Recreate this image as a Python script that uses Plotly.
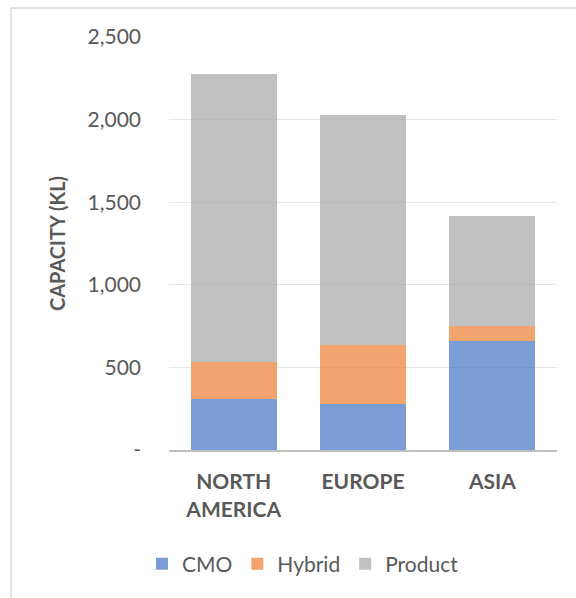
import plotly.graph_objects as go

regions = ["NORTH AMERICA", "EUROPE", "ASIA"]
region_labels = ["<b>NORTH<br>AMERICA</b>", "<b>EUROPE</b>", "<b>ASIA</b>"]
cmo = [307, 280, 658]
hybrid = [228, 357, 93]
product = [1741, 1391, 665]
tick_vals = [0, 500, 1000, 1500, 2000, 2500]
tick_text = ["-", "500", "1,000", "1,500", "2,000", "2,500"]

FONT = "Lato"
GREY = "#595959"

fig = go.Figure()
fig.add_trace(go.Bar(name="CMO", x=regions, y=cmo, marker=dict(color="rgba(68,114,196,0.7)", line=dict(width=0))))
fig.add_trace(go.Bar(name="Hybrid", x=regions, y=hybrid, marker=dict(color="rgba(237,125,49,0.7)", line=dict(width=0))))
fig.add_trace(go.Bar(name="Product", x=regions, y=product, marker=dict(color="rgba(165,165,165,0.7)", line=dict(width=0))))

W, H = 576, 598
L, R, T, B = 169, 19, 37, 148
pw, ph = W - L - R, H - T - B

def px(x):
    return (x - L) / pw

def py(y):
    return (H - B - y) / ph

fig.update_layout(
    width=W, height=H,
    margin=dict(l=L, r=R, t=T, b=B),
    barmode="stack",
    bargap=0.335,
    plot_bgcolor="white",
    paper_bgcolor="white",
    font=dict(family=FONT, color=GREY, size=21),
    showlegend=True,
    legend=dict(orientation="h", xanchor="left", x=px(142), yanchor="middle", y=py(564),
                font=dict(size=21, color=GREY), itemwidth=30, traceorder="normal"),
    xaxis=dict(showgrid=False, showline=True, linecolor="#bfbfbf", linewidth=2,
               tickvals=regions, ticktext=region_labels, ticks="", ticklabelstandoff=12,
               tickfont=dict(size=21, color=GREY, family=FONT)),
    yaxis=dict(range=[0, 2500], tickvals=tick_vals, ticktext=tick_text,
               showgrid=True, gridcolor="#e6e6e6", gridwidth=1, zeroline=False,
               showline=False, ticks="", ticklabelstandoff=27,
               tickfont=dict(size=21, color=GREY),
               title=dict(text="<b>CAPACITY (KL)</b>", font=dict(size=20, color=GREY), standoff=16)),
    shapes=[dict(type="rect", xref="paper", yref="paper", x0=px(11), x1=px(600), y0=py(620), y1=py(8),
                 line=dict(color="#d9d9d9", width=1.5), fillcolor="rgba(0,0,0,0)", layer="below")],
)

fig.write_html("out.html")
